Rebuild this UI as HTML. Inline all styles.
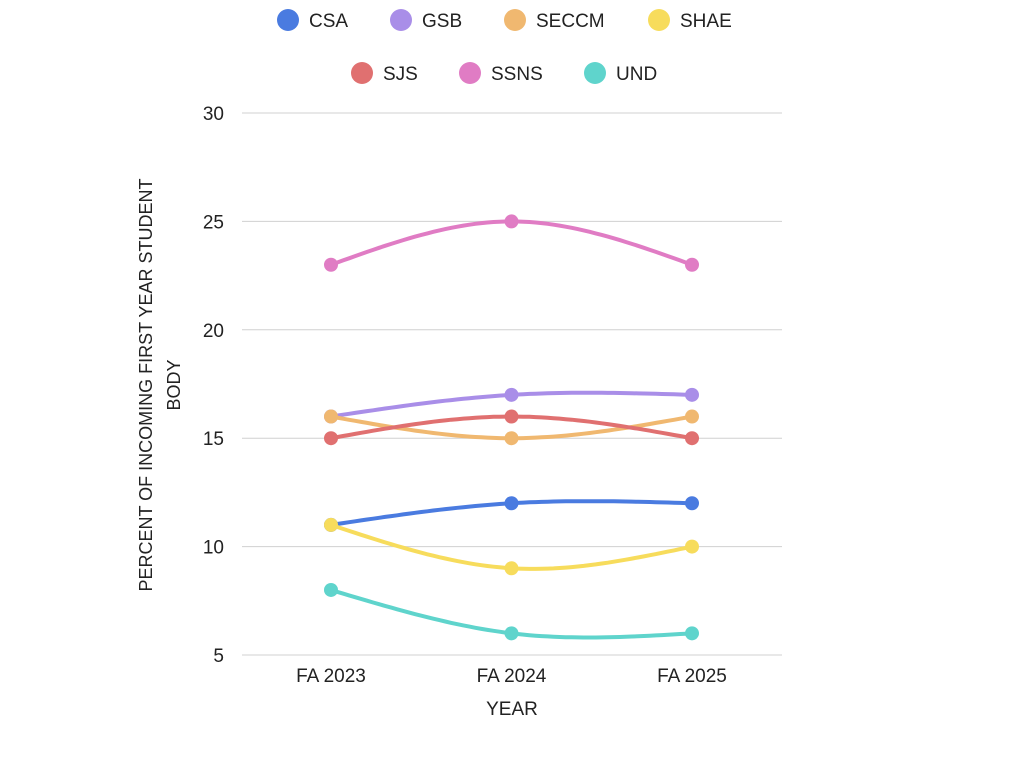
<!DOCTYPE html>
<html><head><meta charset="utf-8"><style>
body{margin:0;background:#fff;font-family:"Liberation Sans",sans-serif;}
svg text{font-family:"Liberation Sans",sans-serif;fill:#222;}
</style></head><body>
<svg id="chart" width="1024" height="768" viewBox="0 0 1024 768">
<g id="legend"></g>
<g id="grid"></g>
<g id="series"></g>
<text transform="translate(152,385) rotate(-90)" text-anchor="middle" font-size="18">PERCENT OF INCOMING FIRST YEAR STUDENT</text>
<text transform="translate(180,385) rotate(-90)" text-anchor="middle" font-size="18">BODY</text>
<text x="512" y="715" text-anchor="middle" font-size="19">YEAR</text>
</svg>
<script>
const categories=["FA 2023","FA 2024","FA 2025"];
const seriesNames=["CSA","GSB","SECCM","SHAE","SJS","SSNS","UND"];
const csa=[11,12,12];
const gsb=[16,17,17];
const seccm=[16,15,16];
const shae=[11,9,10];
const sjs=[15,16,15];
const ssns=[23,25,23];
const und=[8,6,6];
const yTicks=[5,10,15,20,25,30];
const values=[csa,gsb,seccm,shae,sjs,ssns,und];
const colors=["#4a7be0","#a98ee8","#f0b870","#f7dc5c","#e07070","#e07cc4","#5fd4cc"];
const legendPos=[[288,20],[401,20],[515,20],[659,20],[362,73],[470,73],[595,73]];
const NS="http://www.w3.org/2000/svg";
const x=i=>331+i*180.5;
const y=v=>655-(v-5)*(542/25);
function mk(t,a,p){const e=document.createElementNS(NS,t);for(const k in a)e.setAttribute(k,a[k]);p.appendChild(e);return e;}
const grid=document.getElementById('grid');
yTicks.forEach(t=>{
 const l=mk('line',{x1:242,x2:782,y1:y(t),y2:y(t),stroke:'#d0d0d0','stroke-width':1},grid);
 
 
 const tx=mk('text',{x:224,y:y(t)+7,'text-anchor':'end','font-size':19},grid);
 tx.textContent=t;
 
 
});
categories.forEach((c,i)=>{
 const tx=mk('text',{x:x(i),y:682,'text-anchor':'middle','font-size':19},grid);
 tx.textContent=c;
 
 
});
const sg=document.getElementById('series');
function spline(pts){
 let d=`M${pts[0][0]},${pts[0][1]}`;
 const h=pts[1][0]-pts[0][0];
 const Mm=3*((pts[2][1]-pts[1][1])/h-(pts[1][1]-pts[0][1])/h)/(2*h);
 const Ms=[0,Mm,0];
 for(let i=0;i<pts.length-1;i++){
  const x0=pts[i][0],y0=pts[i][1],y1=pts[i+1][1];
  for(let s=1;s<=30;s++){
   const t=s/30,xx=x0+t*h;
   const A=1-t,B=t;
   const yy=A*y0+B*y1+((A*A*A-A)*Ms[i]+(B*B*B-B)*Ms[i+1])*h*h/6;
   d+=` L${xx.toFixed(1)},${yy.toFixed(1)}`;
  }
 }
 return d;
}
values.forEach((vals,si)=>{
 const pts=vals.map((v,i)=>[x(i),y(v)]);
 const p=mk('path',{d:spline(pts),fill:'none',stroke:colors[si],'stroke-width':4,'stroke-linecap':'round'},sg);
 
 
 pts.forEach((pt,i)=>{
  const c=mk('circle',{cx:pt[0],cy:pt[1],r:7,fill:colors[si]},sg);
  
  
 });
});
const lg=document.getElementById('legend');
seriesNames.forEach((n,i)=>{
 const [cx,cy]=legendPos[i];
 const g=mk('g',{},lg);
 
 
 mk('circle',{cx:cx,cy:cy,r:11,fill:colors[i]},g);
 const t=mk('text',{x:cx+21,y:cy+7,'font-size':19},g);
 t.textContent=n;
});
</script>
</body></html>
